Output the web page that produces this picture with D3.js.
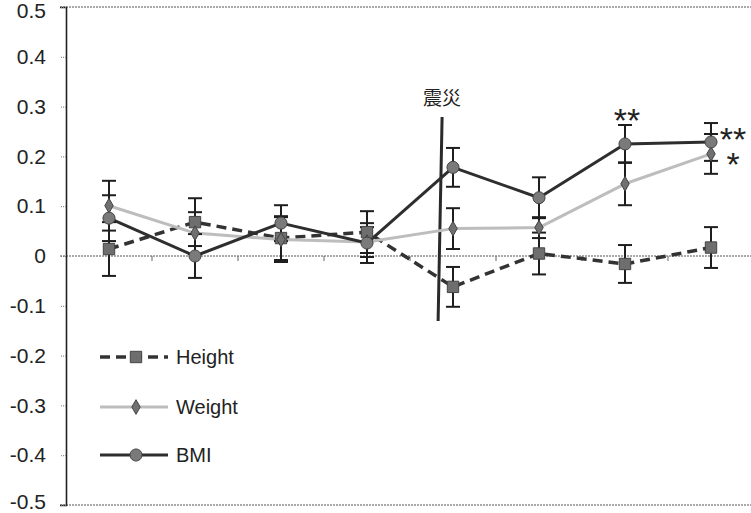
<!DOCTYPE html>
<html>
<head>
<meta charset="utf-8">
<script src="https://cdn.jsdelivr.net/npm/d3@7"></script>
<style>
  html, body { margin: 0; padding: 0; background: #fff; }
  svg { display: block; font-family: Arial, "Liberation Sans", sans-serif; }
</style>
</head>
<body>
<svg id="chart" width="751" height="513"></svg>
<script>
// Survey periods (eight time points, unlabeled on the axis)
const periods = ["1", "2", "3", "4", "5", "6", "7", "8"];

// Mean change (SD score) and error half-widths for each measure
const heightMean = [0.014, 0.068, 0.036, 0.048, -0.062, 0.005, -0.016, 0.017];
const heightErr  = [0.054, 0.048, 0.044, 0.042, 0.040, 0.042, 0.038, 0.041];
const weightMean = [0.101, 0.046, 0.033, 0.028, 0.055, 0.057, 0.145, 0.205];
const weightErr  = [0.050, 0.042, 0.045, 0.030, 0.041, 0.021, 0.043, 0.040];
const bmiMean    = [0.076, 0.000, 0.066, 0.026, 0.178, 0.117, 0.225, 0.229];
const bmiErr     = [0.046, 0.044, 0.036, 0.040, 0.039, 0.041, 0.038, 0.038];

const yTicks = [0.5, 0.4, 0.3, 0.2, 0.1, 0, -0.1, -0.2, -0.3, -0.4, -0.5];

// Significance marks, placed relative to the marked point
const sigMarks = [
  { period: "7", value: 0.225, label: "**", dx: 2,  dy: -31 },
  { period: "8", value: 0.229, label: "**", dx: 22, dy: -10 },
  { period: "8", value: 0.205, label: "*",  dx: 22, dy: 3 }
];

(function () {
const svg = d3.select("#chart");
const plotLeft = 66, plotRight = 754, plotTop = 7, plotBottom = 505;

const x = d3.scaleBand().domain(periods).range([plotLeft, plotRight]);
const y = d3.scaleLinear().domain([-0.5, 0.5]).range([plotBottom, plotTop]);
const cx = d => x(d) + x.bandwidth() / 2;

// Frame: top and bottom rules, zero line
[0.5, -0.5, 0].forEach(v => {
  svg.append("line").attr("x1", plotLeft - 6).attr("x2", 751).attr("y1", y(v)).attr("y2", y(v))
    .attr("stroke", "#555").attr("stroke-width", 1).attr("stroke-dasharray", "2,1");
});

// Category boundary ticks along the zero line
svg.append("g").selectAll("line").data(periods.slice(1)).join("line")
  .attr("x1", d => x(d)).attr("x2", d => x(d))
  .attr("y1", y(0)).attr("y2", y(0) + 5)
  .attr("stroke", "#666").attr("stroke-width", 1);

// Y axis (plain hyphen for negatives)
const yAxis = d3.axisLeft(y).tickValues(yTicks).tickSize(6).tickPadding(14)
  .tickFormat(d => d === 0 ? "0" : d.toFixed(1));
const gy = svg.append("g").attr("transform", `translate(${plotLeft},0)`).call(yAxis);
gy.select(".domain").attr("stroke", "#222").attr("stroke-width", 1.6);
gy.selectAll(".tick line").attr("stroke", "#777").attr("stroke-width", 1).attr("stroke-dasharray", "1,1");
gy.selectAll(".tick text").attr("font-size", 21).attr("fill", "#222")
  .attr("font-family", "Arial, 'Liberation Sans', sans-serif");
// keep the end labels inside the page
gy.selectAll(".tick text").filter(d => d === 0.5).attr("dy", "0.52em");
gy.selectAll(".tick text").filter(d => d === -0.5).attr("dy", "0.18em");

// Earthquake marker
const quakeX = x("5") + x.bandwidth() * 0.35;
svg.append("line")
  .attr("x1", quakeX + 2).attr("y1", 117).attr("x2", quakeX - 2).attr("y2", 321)
  .attr("stroke", "#2a2a2a").attr("stroke-width", 3);
svg.append("text").attr("x", quakeX + 2).attr("y", 105).attr("text-anchor", "middle")
  .attr("font-size", 19).attr("fill", "#222")
  .attr("font-family", "'Noto Sans CJK JP', 'Noto Sans CJK SC', sans-serif")
  .text("震災");

const series = [
  { name: "Height", mean: heightMean, err: heightErr, stroke: "#333", width: 3.5, dash: "10,6", marker: "square", fill: "#6e6e6e" },
  { name: "Weight", mean: weightMean, err: weightErr, stroke: "#bdbdbd", width: 3, dash: null, marker: "diamond", fill: "#707070" },
  { name: "BMI",    mean: bmiMean,    err: bmiErr,    stroke: "#2e2e2e", width: 3, dash: null, marker: "circle", fill: "#7a7a7a" }
];

const line = d3.line().x(d => cx(d.p)).y(d => y(d.v));

// Series lines
series.forEach(s => {
  const pts = periods.map((p, i) => ({ p, v: s.mean[i] }));
  svg.append("path").datum(pts).attr("d", line)
    .attr("fill", "none").attr("stroke", s.stroke).attr("stroke-width", s.width)
    .attr("stroke-dasharray", s.dash).attr("stroke-linejoin", "round");
});

// Error bars
series.forEach(s => {
  const pts = periods.map((p, i) => ({ p, v: s.mean[i], e: s.err[i] }));
  const g = svg.append("g").attr("stroke", "#1e1e1e").attr("stroke-width", 2);
  g.selectAll("line.v").data(pts).join("line").attr("class", "v")
    .attr("x1", d => cx(d.p)).attr("x2", d => cx(d.p))
    .attr("y1", d => y(d.v + d.e)).attr("y2", d => y(d.v - d.e));
  g.selectAll("line.t").data(pts).join("line").attr("class", "t")
    .attr("x1", d => cx(d.p) - 7).attr("x2", d => cx(d.p) + 7)
    .attr("y1", d => y(d.v + d.e)).attr("y2", d => y(d.v + d.e));
  g.selectAll("line.b").data(pts).join("line").attr("class", "b")
    .attr("x1", d => cx(d.p) - 7).attr("x2", d => cx(d.p) + 7)
    .attr("y1", d => y(d.v - d.e)).attr("y2", d => y(d.v - d.e));
});

const symbolFor = m => m === "square" ? d3.symbolSquare : m === "diamond" ? d3.symbolDiamond : d3.symbolCircle;
const sizeFor = m => m === "square" ? 130 : m === "diamond" ? 62 : 115;

// Markers
series.forEach(s => {
  const pts = periods.map((p, i) => ({ p, v: s.mean[i] }));
  svg.append("g").selectAll("path").data(pts).join("path")
    .attr("d", d3.symbol().type(symbolFor(s.marker)).size(sizeFor(s.marker)))
    .attr("transform", d => `translate(${cx(d.p)},${y(d.v)})`)
    .attr("fill", s.fill).attr("stroke", "#444").attr("stroke-width", 1);
});

// Significance asterisks (glyph centre sits about 0.57em above the baseline)
const starSize = 34;
svg.append("g").selectAll("text").data(sigMarks).join("text")
  .attr("x", d => cx(d.period) + d.dx)
  .attr("y", d => y(d.value) + d.dy + 0.57 * starSize)
  .attr("text-anchor", "middle")
  .attr("font-size", starSize).attr("fill", "#222")
  .text(d => d.label);

// Legend
const legendY = [357, 407, 455];
const lg = svg.append("g");
series.forEach((s, i) => {
  const ly = legendY[i];
  lg.append("line").attr("x1", 100).attr("x2", 168).attr("y1", ly).attr("y2", ly)
    .attr("stroke", s.stroke).attr("stroke-width", s.width).attr("stroke-dasharray", s.dash);
  lg.append("path")
    .attr("d", d3.symbol().type(symbolFor(s.marker)).size(sizeFor(s.marker)))
    .attr("transform", `translate(136,${ly})`)
    .attr("fill", s.fill).attr("stroke", "#444").attr("stroke-width", 1);
  lg.append("text").attr("x", 176).attr("y", ly).attr("dy", "0.36em")
    .attr("font-size", 20).attr("fill", "#222").text(s.name);
});
})();
</script>
</body>
</html>
